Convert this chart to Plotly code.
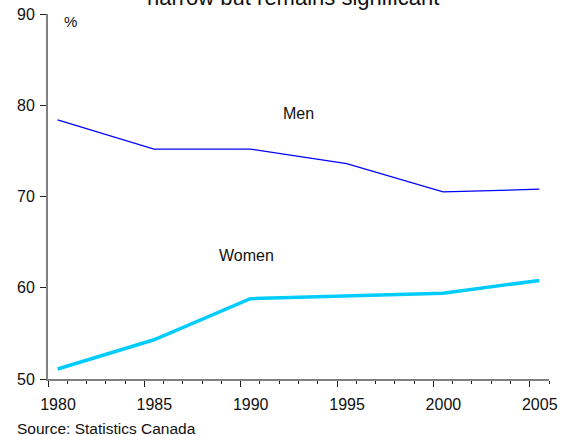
import plotly.graph_objects as go

# Participation rate by sex, selected years
years = [1980, 1985, 1990, 1995, 2000, 2005]
men = [78.4, 75.2, 75.2, 73.6, 70.5, 70.8]
women = [51.1, 54.3, 58.8, 59.1, 59.4, 60.8]

# Annual category axis: every year gets a slot, labels every fifth year
first_year, last_year = 1980, 2005
label_years = [1980, 1985, 1990, 1995, 2000, 2005]
y_ticks = [50, 60, 70, 80, 90]

FONT = "Liberation Sans, Arial, sans-serif"
W, H = 565, 436
L, R, T, B = 47.5, 16, 14, 57
plot_w = W - L - R
plot_h = H - T - B
slot_px = plot_w / (last_year - first_year + 1)

fig = go.Figure()
fig.add_trace(go.Scatter(
    x=years, y=men, mode="lines", name="Men",
    line=dict(color="#0000FF", width=1.2),
))
fig.add_trace(go.Scatter(
    x=years, y=women, mode="lines", name="Women",
    line=dict(color="#00CCFF", width=3.5),
))

boundaries = [y - 0.5 for y in range(first_year, last_year + 2)]

fig.update_layout(
    width=W, height=H,
    margin=dict(l=L, r=R, t=T, b=B, pad=0, autoexpand=False),
    paper_bgcolor="white", plot_bgcolor="white",
    showlegend=False,
    font=dict(family=FONT, size=16, color="#111111"),
    xaxis=dict(
        range=[first_year - 0.5, last_year + 0.5],
        automargin=False,
        tickmode="array",
        tickvals=[y - 0.5 for y in label_years],
        ticktext=[str(y) for y in label_years],
        ticklabelshift=int(round(slot_px / 2)),
        ticklabelstandoff=4,
        ticks="outside", ticklen=6, tickwidth=1, tickcolor="#222222",
        minor=dict(tickmode="array", tickvals=boundaries,
                   ticks="outside", ticklen=3, tickwidth=1,
                   tickcolor="#222222"),
        showline=True, linecolor="#808080", linewidth=2,
        showgrid=False, zeroline=False,
        tickfont=dict(size=16),
        fixedrange=True,
    ),
    yaxis=dict(
        range=[50, 90],
        automargin=False,
        tickmode="array", tickvals=y_ticks,
        ticks="outside", ticklen=6, tickwidth=1, tickcolor="#222222",
        ticklabelstandoff=2,
        showline=True, linecolor="#808080", linewidth=2,
        showgrid=False, zeroline=False,
        tickfont=dict(size=16),
        fixedrange=True,
    ),
)


def px_x(px):
    return (px - L) / plot_w


def px_y(py):
    return 1 - (py - T) / plot_h


annotations = [
    dict(text="narrow but remains significant", xref="paper", yref="paper",
         x=px_x(293), y=px_y(-2.5), xanchor="center", yanchor="middle",
         showarrow=False, font=dict(size=22)),
    dict(text="%", xref="paper", yref="paper",
         x=px_x(70), y=px_y(21.5), xanchor="center", yanchor="middle",
         showarrow=False, font=dict(size=15)),
    dict(text="Men", x=1992.5, y=79.1, xref="x", yref="y",
         showarrow=False, font=dict(size=16)),
    dict(text="Women", x=1989.8, y=63.5, xref="x", yref="y",
         showarrow=False, font=dict(size=16)),
    dict(text="Source: Statistics Canada", xref="paper", yref="paper",
         x=px_x(14), y=px_y(428.5), xanchor="left", yanchor="middle",
         showarrow=False, font=dict(size=15.5)),
]
fig.update_layout(annotations=annotations)

fig.write_html("out.html")
